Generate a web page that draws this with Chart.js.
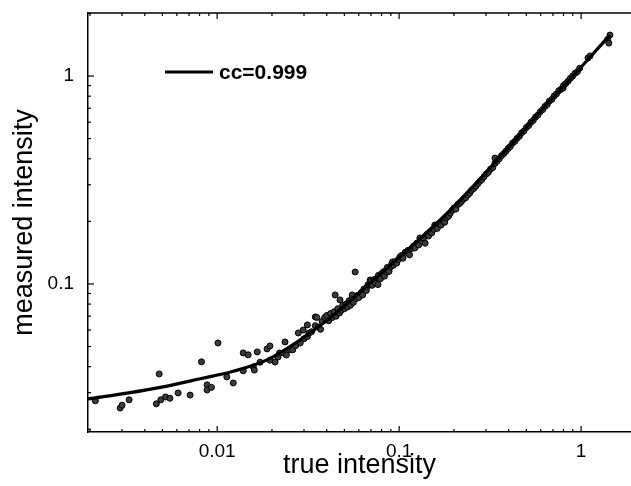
<!DOCTYPE html>
<html>
<head>
<meta charset="utf-8">
<script src="https://cdn.jsdelivr.net/npm/chart.js@4/dist/chart.umd.min.js"></script>
<style>
  html, body { margin: 0; padding: 0; background: #fff; }
  canvas { display: block; }
</style>
</head>
<body>
<canvas id="chart" width="631" height="486"></canvas>
<script>
// tick labels shown on each axis
const xTicks = [0.01, 0.1, 1];
const yTicks = [0.1, 1];

// fitted curve
const fitLabel = 'cc=0.999';
const fitX = [0.00195, 0.00333, 0.00486, 0.00807, 0.01225, 0.0188, 0.0286, 0.0418, 0.0693, 0.101, 0.168, 0.198, 0.359, 0.659, 0.987, 1.44];
const fitY = [0.0280, 0.0300, 0.0318, 0.0350, 0.0380, 0.0431, 0.0538, 0.0687, 0.101, 0.135, 0.203, 0.234, 0.408, 0.742, 1.09, 1.574];

// measured samples [true intensity, measured intensity]
const samples = [
  [0.00214, 0.0274], [0.00293, 0.0253], [0.0030, 0.0261], [0.00328, 0.0277],
  [0.0048, 0.0369], [0.00463, 0.0265], [0.0049, 0.0277], [0.0052, 0.0286],
  [0.0055, 0.0282], [0.0061, 0.0299], [0.0071, 0.0292], [0.0082, 0.0422],
  [0.0088, 0.0327], [0.0088, 0.0309], [0.0093, 0.0318], [0.0101, 0.052],
  [0.0113, 0.0357], [0.01225, 0.0334], [0.0139, 0.0382], [0.0139, 0.0466],
  [0.0148, 0.0456], [0.0158, 0.0399], [0.016, 0.0385], [0.0166, 0.0471],
  [0.0172, 0.042], [0.0188, 0.0487], [0.0195, 0.0503], [0.0195, 0.043],
  [0.0208, 0.0421], [0.0216, 0.0445], [0.022, 0.0465], [0.0232, 0.0466],
  [0.0236, 0.0526], [0.024, 0.0455], [0.0252, 0.0482], [0.026, 0.0482],
  [0.027, 0.0505], [0.0279, 0.0581], [0.0286, 0.052], [0.0297, 0.060],
  [0.030, 0.0545], [0.0313, 0.0635], [0.0313, 0.0558], [0.032, 0.058],
  [0.033, 0.0589], [0.0346, 0.0694], [0.0346, 0.063], [0.0353, 0.069],
  [0.036, 0.062], [0.037, 0.0605], [0.0377, 0.066], [0.039, 0.069],
  [0.0445, 0.0885], [0.0473, 0.0838], [0.0552, 0.0885], [0.0573, 0.1142],
  [0.040, 0.0705], [0.041, 0.0665], [0.042, 0.0720], [0.043, 0.0690],
  [0.044, 0.0735], [0.045, 0.0700], [0.046, 0.0760], [0.047, 0.0725],
  [0.048, 0.0745], [0.049, 0.0790], [0.050, 0.0760], [0.051, 0.0800],
  [0.052, 0.0775], [0.053, 0.0830], [0.054, 0.0790], [0.055, 0.0840],
  [0.056, 0.0815], [0.058, 0.0850], [0.059, 0.0880], [0.060, 0.0860],
  [0.062, 0.0910], [0.063, 0.0885], [0.064, 0.0945], [0.066, 0.0930],
  [0.067, 0.0975], [0.0676, 0.0993], [0.069, 0.0990], [0.0693, 0.1045],
  [0.070, 0.1030], [0.071, 0.0985], [0.073, 0.1050], [0.074, 0.1010],
  [0.0765, 0.0993], [0.076, 0.1070], [0.077, 0.1100], [0.079, 0.1060],
  [0.080, 0.1120], [0.082, 0.1145], [0.083, 0.1090], [0.085, 0.1160],
  [0.0859, 0.114], [0.086, 0.1200], [0.088, 0.1150], [0.090, 0.1210],
  [0.091, 0.1250], [0.092, 0.1276], [0.093, 0.1230], [0.095, 0.1280],
  [0.097, 0.1260], [0.099, 0.1310], [0.101, 0.1349], [0.103, 0.1370],
  [0.105, 0.1330], [0.108, 0.1420], [0.110, 0.1425], [0.112, 0.1450],
  [0.114, 0.1380], [0.117, 0.1480], [0.120, 0.1520], [0.122, 0.1490],
  [0.125, 0.1570], [0.128, 0.1540], [0.130, 0.1664], [0.133, 0.1610],
  [0.136, 0.1660], [0.139, 0.1570], [0.142, 0.1730], [0.145, 0.1700],
  [0.148, 0.1780], [0.151, 0.1760], [0.155, 0.1830], [0.157, 0.1920],
  [0.162, 0.1850], [0.166, 0.1950], [0.170, 0.1920], [0.174, 0.2010],
  [0.178, 0.1980], [0.182, 0.2080], [0.187, 0.2120], [0.191, 0.2190],
  [0.196, 0.2260], [0.200, 0.2320], [0.205, 0.2290], [0.210, 0.2410],
  [0.215, 0.2440], [0.220, 0.2490], [0.226, 0.2560], [0.232, 0.2600],
  [0.238, 0.2680], [0.244, 0.2730], [0.250, 0.2820], [0.257, 0.2880],
  [0.264, 0.2950], [0.271, 0.3040], [0.278, 0.3120], [0.285, 0.3180],
  [0.293, 0.3280], [0.301, 0.3380], [0.309, 0.3440], [0.318, 0.3570],
  [0.327, 0.3630], [0.336, 0.4030], [0.336, 0.3800], [0.345, 0.3890],
  [0.355, 0.4000], [0.365, 0.4140], [0.375, 0.4230], [0.386, 0.4350],
  [0.397, 0.4480], [0.408, 0.4580], [0.420, 0.4760], [0.432, 0.4850],
  [0.445, 0.5020], [0.458, 0.5130], [0.471, 0.5330], [0.485, 0.5440],
  [0.500, 0.5650], [0.515, 0.5780], [0.530, 0.5990], [0.546, 0.6120],
  [0.562, 0.6350], [0.579, 0.6490], [0.596, 0.6730], [0.614, 0.6890],
  [0.632, 0.7140], [0.651, 0.7290], [0.670, 0.7580], [0.690, 0.7720],
  [0.711, 0.8020], [0.732, 0.8200], [0.754, 0.8500], [0.776, 0.8640],
  [0.796, 0.8750], [0.800, 0.9000], [0.823, 0.9200], [0.848, 0.9450],
  [0.873, 0.9750], [0.899, 1.0000], [0.926, 1.0300], [0.954, 1.0500],
  [0.982, 1.0900], [1.09, 1.22], [1.12, 1.25], [1.40, 1.50],
  [1.42, 1.44], [1.44, 1.574]
];

const fontFamily = '"Liberation Sans", Arial, Helvetica, sans-serif';

// inward ticks on left, bottom and top, plus the top border and legend
const framePlugin = {
  id: 'frame',
  afterDraw(chart) {
    const { ctx, chartArea: a, scales: { x, y } } = chart;
    ctx.save();
    ctx.strokeStyle = '#000';
    ctx.lineWidth = 1.5;
    ctx.beginPath();
    ctx.moveTo(a.left, a.top);
    ctx.lineTo(a.right, a.top);
    ctx.stroke();

    ctx.lineWidth = 1.2;
    const decades = [0.001, 0.01, 0.1, 1];
    for (const d of decades) {
      for (let m = 1; m <= 9; m++) {
        const v = d * m;
        const len = m === 1 ? 6 : 3;
        if (v >= x.min && v <= x.max) {
          const px = x.getPixelForValue(v);
          ctx.beginPath();
          ctx.moveTo(px, a.bottom); ctx.lineTo(px, a.bottom - len);
          ctx.moveTo(px, a.top); ctx.lineTo(px, a.top + len);
          ctx.stroke();
        }
        if (v >= y.min && v <= y.max) {
          const py = y.getPixelForValue(v);
          ctx.beginPath();
          ctx.moveTo(a.left, py); ctx.lineTo(a.left + len, py);
          ctx.stroke();
        }
      }
    }

    // legend inside the plot
    const lx = a.left + 77, ly = a.top + 59;
    ctx.lineWidth = 3;
    ctx.beginPath();
    ctx.moveTo(lx, ly); ctx.lineTo(lx + 48, ly);
    ctx.stroke();
    ctx.fillStyle = '#000';
    ctx.font = 'bold 21px ' + fontFamily;
    ctx.textBaseline = 'middle';
    ctx.textAlign = 'left';
    ctx.fillText(chart.data.datasets[0].label, lx + 54, ly + 1);
    ctx.restore();
  }
};

new Chart(document.getElementById('chart'), {
  type: 'scatter',
  data: {
    datasets: [
      {
        label: fitLabel,
        type: 'line',
        data: fitX.map((v, i) => ({ x: v, y: fitY[i] })),
        borderColor: '#000',
        borderWidth: 3.2,
        pointRadius: 0,
        fill: false,
        cubicInterpolationMode: 'monotone',
        order: 0
      },
      {
        label: 'data',
        data: samples.map(p => ({ x: p[0], y: p[1] })),
        backgroundColor: '#3c3c3c',
        borderColor: '#000',
        borderWidth: 1,
        pointRadius: 3,
        order: 1
      }
    ]
  },
  options: {
    responsive: false,
    animation: false,
    layout: { autoPadding: false, padding: { top: 13, right: 0, left: 0, bottom: 0 } },
    plugins: {
      legend: { display: false },
      tooltip: { enabled: false }
    },
    scales: {
      x: {
        type: 'logarithmic',
        min: 0.00195,
        max: 1.88,
        afterBuildTicks: s => { s.ticks = xTicks.map(v => ({ value: v })); },
        afterFit: s => { s.height = 54; s.paddingLeft = 0; s.paddingRight = 0; },
        ticks: {
          autoSkip: false, maxRotation: 0, padding: 8, color: '#000',
          font: { family: fontFamily, size: 19 },
          callback: v => String(v)
        },
        grid: { display: false, drawTicks: false },
        border: { display: true, color: '#000', width: 1.5 },
        title: {
          display: true, text: 'true intensity', color: '#000',
          font: { family: fontFamily, size: 27 },
          padding: { top: 0, bottom: 4 }
        }
      },
      y: {
        type: 'logarithmic',
        min: 0.0194,
        max: 2.01,
        afterBuildTicks: s => { s.ticks = yTicks.map(v => ({ value: v })); },
        afterFit: s => { s.width = 88; s.paddingTop = 0; s.paddingBottom = 0; },
        ticks: {
          autoSkip: false, padding: 14, color: '#000',
          font: { family: fontFamily, size: 19 },
          callback: v => String(v)
        },
        grid: { display: false, drawTicks: false },
        border: { display: true, color: '#000', width: 1.5 },
        title: {
          display: true, text: 'measured intensity', color: '#000',
          font: { family: fontFamily, size: 27 },
          padding: { top: 8, bottom: 0 }
        }
      }
    }
  },
  plugins: [framePlugin]
});
</script>
</body>
</html>
